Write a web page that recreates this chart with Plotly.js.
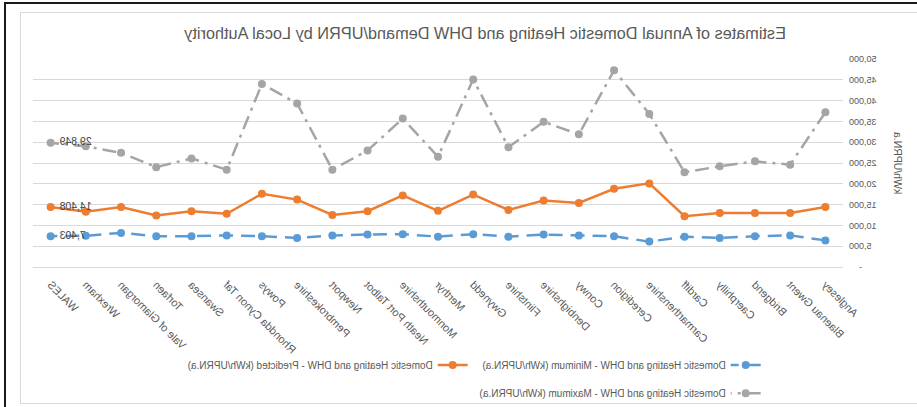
<!DOCTYPE html>
<html>
<head>
<meta charset="utf-8">
<script src="https://cdn.plot.ly/plotly-3.0.1.min.js"></script>
<style>
  html, body { margin: 0; padding: 0; background: #ffffff; overflow: hidden; }
  #frame { position: relative; width: 917px; height: 407px; overflow: hidden; background: #ffffff; }
  #flip { position: absolute; left: 0; top: 0; width: 917px; height: 407px; transform: scaleX(-1); transform-origin: 50% 50%; }
  #chart { width: 917px; height: 407px; }
  .edge { position: absolute; }
</style>
</head>
<body>
<div id="frame">
  <div id="flip"><div id="chart"></div></div>
  <!-- chart-area outline and outer frame lines -->
  <div class="edge" style="left:20px; top:12px; width:910px; height:390px; border:1px solid #d9d9d9;"></div>
  <div class="edge" style="left:4px; top:3px; width:2px; height:404px; background:#1a1a1a;"></div>
  <div class="edge" style="left:4px; top:2px; width:913px; height:2px; background:#1a1a1a;"></div>
</div>
<script>
// Local authorities (left to right), with the all-Wales figure last
var authorities = ["Anglesey", "Blaenau Gwent", "Bridgend", "Caerphilly", "Cardiff",
  "Carmarthenshire", "Ceredigion", "Conwy", "Denbighshire", "Flintshire", "Gwynedd",
  "Merthyr", "Monmouthshire", "Neath Port Talbot", "Newport", "Pembrokeshire", "Powys",
  "Rhondda Cynon Taf", "Swansea", "Torfaen", "Vale of Glamorgan", "Wrexham", "WALES"];

// Annual domestic heating + DHW demand per UPRN (kWh/UPRN.a)
var minimumDemand = [6400, 7600, 7400, 7000, 7300, 6100, 7400, 7600, 7800, 7300, 7900,
  7300, 7900, 7800, 7600, 7000, 7400, 7600, 7400, 7400, 8200, 7500, 7403];
var predictedDemand = [14400, 13000, 13000, 13000, 12200, 20100, 18800, 15400, 16000, 13700, 17400,
  13500, 17200, 13400, 12500, 16200, 17600, 12800, 13400, 12400, 14400, 13300, 14408];
var maximumDemand = [37200, 24600, 25400, 24200, 22800, 36800, 47300, 31900, 34900, 28800, 45100,
  26500, 35700, 28000, 23400, 39300, 44000, 23400, 26100, 24000, 27450, 29000, 29849];

var seriesNames = [
  "Domestic Heating and DHW - Minimum (kWh/UPRN.a)",
  "Domestic Heating and DHW - Predicted (kWh/UPRN.a)",
  "Domestic Heating and DHW - Maximum (kWh/UPRN.a)"
];

var yTickValues = [0, 5000, 10000, 15000, 20000, 25000, 30000, 35000, 40000, 45000, 50000];
var yTickLabels = ["-\u00a0\u00a0\u00a0\u00a0", "5,000", "10,000", "15,000", "20,000", "25,000",
  "30,000", "35,000", "40,000", "45,000", "50,000"];

var labelledCategory = "WALES";

function valueLabels(values) {
  return values.map(function (v, i) {
    return authorities[i] === labelledCategory ? v.toLocaleString("en-GB") + " " : "";
  });
}

var FONT = "Liberation Sans, Arial, sans-serif";

function series(values, name, color, dash, legendId) {
  return {
    type: "scatter",
    mode: "lines+markers+text",
    x: authorities,
    y: values,
    name: name,
    legend: legendId,
    text: valueLabels(values),
    textposition: "middle left",
    textfont: { family: FONT, size: 10.5, color: "#404040" },
    line: { color: color, width: 2.5, dash: dash },
    marker: { color: color, size: 8, symbol: "circle" },
    cliponaxis: false,
    hoverinfo: "x+y+name"
  };
}

var traces = [
  series(minimumDemand, seriesNames[0], "#5b9bd5", "14px,8px", "legend"),
  series(predictedDemand, seriesNames[1], "#ed7d31", "solid", "legend"),
  series(maximumDemand, seriesNames[2], "#a5a5a5", "14px,6px,3px,6px", "legend2")
];

// legends are placed against the whole figure so they don't eat into the plot margins
var legendBase = {
  orientation: "h",
  xref: "container",
  yref: "container",
  x: 0.165,
  xanchor: "left",
  yanchor: "middle",
  font: { family: FONT, size: 10, color: "#595959" },
  bgcolor: "rgba(0,0,0,0)",
  itemclick: false,
  itemdoubleclick: false,
  entrywidth: 248,
  entrywidthmode: "pixels"
};

var layout = {
  width: 917,
  height: 407,
  margin: { l: 74, r: 33, t: 59, b: 140 },
  paper_bgcolor: "#ffffff",
  plot_bgcolor: "#ffffff",
  font: { family: FONT, color: "#595959", size: 10 },
  title: {
    text: "Estimates of Annual Domestic Heating and DHW Demand/UPRN by Local Authority",
    font: { family: FONT, size: 16.3, color: "#595959" },
    x: 0.471,
    xanchor: "center",
    y: 0.917,
    yanchor: "middle"
  },
  showlegend: true,
  legend: Object.assign({}, legendBase, { y: 0.103 }),
  legend2: Object.assign({}, legendBase, { y: 0.034 }),
  xaxis: {
    type: "category",
    range: [-0.5, authorities.length - 0.5],
    tickangle: -45,
    tickfont: { family: FONT, size: 11, color: "#595959" },
    showgrid: false,
    showline: true,
    linecolor: "#d9d9d9",
    linewidth: 1,
    ticks: "",
    ticklabelstandoff: 6,
    automargin: false,
    fixedrange: true
  },
  yaxis: {
    range: [0, 50000],
    tickvals: yTickValues,
    ticktext: yTickLabels,
    tickfont: { family: FONT, size: 9, color: "#595959" },
    showgrid: true,
    gridcolor: "#d9d9d9",
    gridwidth: 1,
    zeroline: false,
    showline: false,
    ticks: "",
    ticklabelstandoff: 5,
    automargin: false,
    fixedrange: true,
    title: {
      text: "kWh/UPRN.a",
      font: { family: FONT, size: 10.5, color: "#595959" },
      standoff: 14
    }
  }
};

Plotly.newPlot("chart", traces, layout, { displayModeBar: false, staticPlot: true });
</script>
</body>
</html>
